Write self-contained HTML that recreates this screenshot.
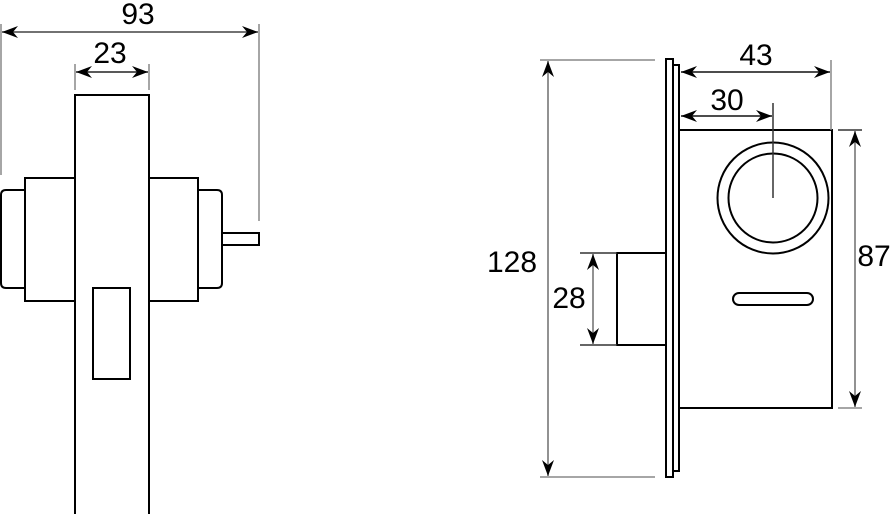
<!DOCTYPE html>
<html><head><meta charset="utf-8"><style>
html,body{margin:0;padding:0;background:#fff;}
svg{display:block;}
text{font-family:"Liberation Sans",Arial,sans-serif;font-size:30px;fill:#000;}
</style></head><body>
<svg width="892" height="514" viewBox="0 0 892 514" xmlns="http://www.w3.org/2000/svg">
<defs>
<marker id="a" viewBox="0 0 16 12" refX="16" refY="6" markerWidth="16" markerHeight="12" markerUnits="userSpaceOnUse" orient="auto-start-reverse">
<path d="M0,0 L16,6 L0,12 L5,6 Z" fill="#000"/>
</marker>
</defs>
<g fill="#fff" stroke="#000" stroke-width="2">
<!-- left view -->
<path d="M25,190 H6 Q1,190 1,195 V283 Q1,288 6,288 H25 Z"/>
<rect x="25" y="178" width="50" height="123"/>
<path d="M198,190 H217 Q222,190 222,195 V283 Q222,288 217,288 H198 Z"/>
<rect x="149" y="178" width="49" height="123"/>
<rect x="222" y="233" width="37" height="12"/>
<rect x="75" y="95" width="74" height="420"/>
<rect x="93" y="288" width="37" height="91"/>
<!-- right view -->
<rect x="617" y="253" width="49" height="92"/>
<rect x="666" y="59" width="7" height="418"/>
<rect x="673" y="65" width="6" height="406"/>
<rect x="679" y="130" width="153" height="278"/>
<circle cx="773" cy="198" r="55.5"/>
<circle cx="773" cy="198" r="44.5"/>
<rect x="733" y="293" width="80" height="12" rx="6"/>
</g>
<g stroke="#888" stroke-width="1.5" fill="none">
<line x1="1" y1="24" x2="1" y2="175"/>
<line x1="259" y1="24" x2="259" y2="221"/>
<line x1="75" y1="64" x2="75" y2="90"/>
<line x1="149" y1="64" x2="149" y2="90"/>
<line x1="540" y1="60" x2="655" y2="60"/>
<line x1="540" y1="477" x2="655" y2="477"/>
<line x1="831" y1="60" x2="831" y2="130"/>
<line x1="773" y1="103" x2="773" y2="198" stroke="#333"/>
<line x1="838" y1="130" x2="862" y2="130" stroke="#333"/>
<line x1="838" y1="408" x2="862" y2="408"/>
<line x1="580" y1="253" x2="617" y2="253" stroke="#333"/>
<line x1="580" y1="345" x2="617" y2="345" stroke="#333"/>
</g>
<g stroke="#444" stroke-width="1.6" fill="none" marker-start="url(#a)" marker-end="url(#a)">
<line x1="2" y1="32" x2="258" y2="32"/>
<line x1="76" y1="72" x2="148" y2="72" stroke="#222"/>
<line x1="548" y1="61" x2="548" y2="476" stroke="#777"/>
<line x1="681" y1="72" x2="830" y2="72" stroke="#111"/>
<line x1="681" y1="116" x2="772" y2="116" stroke="#111"/>
<line x1="855" y1="131" x2="855" y2="407" stroke="#777"/>
<line x1="593" y1="254" x2="593" y2="344" stroke="#777"/>
</g>
<text x="138" y="24" text-anchor="middle">93</text>
<text x="110" y="63" text-anchor="middle">23</text>
<text x="756" y="65" text-anchor="middle">43</text>
<text x="727" y="110" text-anchor="middle">30</text>
<text x="512" y="272" text-anchor="middle">128</text>
<text x="569" y="308" text-anchor="middle">28</text>
<text x="874" y="266" text-anchor="middle">87</text>
</svg>
</body></html>
